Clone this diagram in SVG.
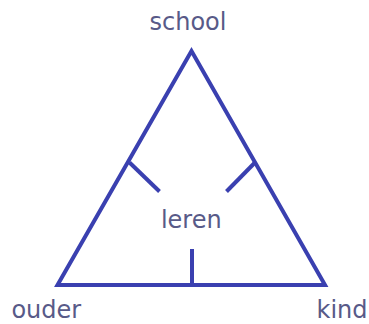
<svg xmlns="http://www.w3.org/2000/svg" width="369" height="324" viewBox="0 0 369 324">
<style>
.ln{fill:none;stroke:#3a40b0;stroke-width:4;stroke-linecap:butt;stroke-linejoin:miter}
.tx{font-family:"DejaVu Sans",Verdana,sans-serif;font-size:24px;fill:#585a88}
</style>
<rect width="369" height="324" fill="#ffffff"/>
<g id="connectors">
<polygon class="ln" points="191.5,51 57.5,285 325,285"/>
<line class="ln" x1="129.5" y1="162.5" x2="159.5" y2="191.5"/>
<line class="ln" x1="255" y1="162.5" x2="226.5" y2="191.5"/>
<line class="ln" x1="192" y1="249" x2="192" y2="285"/>
</g>
<g id="school"><text class="tx" x="188" y="30" text-anchor="middle">school</text></g>
<g id="leren"><text class="tx" x="191.3" y="227.5" text-anchor="middle">leren</text></g>
<g id="ouder"><text class="tx" x="46.3" y="318" text-anchor="middle">ouder</text></g>
<g id="kind"><text class="tx" x="342" y="318" text-anchor="middle">kind</text></g>
</svg>
